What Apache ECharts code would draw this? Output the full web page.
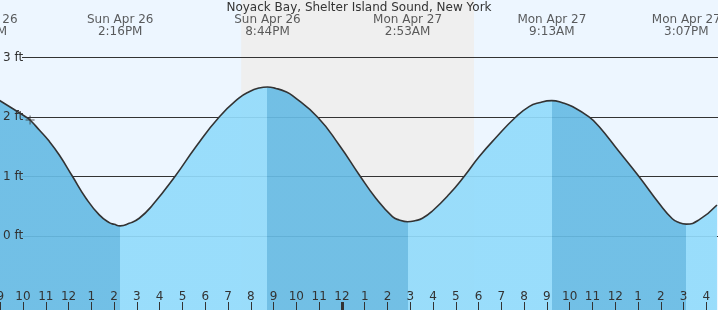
<!DOCTYPE html>
<html><head><meta charset="utf-8">
<script src="https://cdn.jsdelivr.net/npm/echarts@6/dist/echarts.min.js"></script>
<style>html,body{margin:0;padding:0;background:#edf6ff}#c{width:718px;height:310px}</style>
</head><body><div id="c"></div>
<script>
const chartTitle = 'Noyack Bay, Shelter Island Sound, New York';
// time = hours since Sun Apr 26 00:00, height in feet
const tideHours = [8.96, 10.13, 10.31, 10.715, 11.154, 11.593, 12.176, 12.764, 13.348, 13.787, 14.006, 14.267,
  14.664, 15.103, 15.687, 16.67, 17.59, 18.613, 19.49, 19.93, 20.368, 20.733, 21.101, 21.54, 21.83, 22.927,
  23.879, 24.757, 25.49, 26.218, 26.511, 26.883, 27.244, 27.534, 27.973, 28.706, 29.364, 30.02, 30.755,
  31.633, 32.216, 32.655, 33.217, 33.677, 34.116, 34.848, 35.287,
  36.165, 37.04, 37.92, 38.504, 38.797, 39.117, 39.675, 40.465];
const tideFeet = [2.28, 2.00, 1.95, 1.78, 1.59, 1.36, 1.00, 0.635, 0.354, 0.224, 0.196, 0.17,
  0.213, 0.298, 0.52, 1.00, 1.50, 2.00, 2.32, 2.425, 2.487, 2.505, 2.48, 2.425, 2.36, 2.00,
  1.53, 1.03, 0.635, 0.326, 0.269, 0.24, 0.26, 0.297, 0.42, 0.70, 1.00, 1.33, 1.65,
  2.00, 2.175, 2.24, 2.275, 2.24, 2.175, 2.00, 1.84,
  1.42, 1.00, 0.55, 0.29, 0.225, 0.20, 0.27, 0.52];
const extremeHours = [8.3, 14.267, 20.733, 26.883, 33.217, 39.117];
const extremeKinds = ['H', 'L', 'H', 'L', 'H', 'L'];
const extremeLabels = ['Sun Apr 26\n8:18AM', 'Sun Apr 26\n2:16PM', 'Sun Apr 26\n8:44PM',
  'Mon Apr 27\n2:53AM', 'Mon Apr 27\n9:13AM', 'Mon Apr 27\n3:07PM'];
const tickHours = [9,10,11,12,13,14,15,16,17,18,19,20,21,22,23,24,25,26,27,28,29,30,31,32,33,34,35,36,37,38,39,40];
const tickLabels = ['9','10','11','12','1','2','3','4','5','6','7','8','9','10','11','12','1','2','3','4','5','6','7','8','9','10','11','12','1','2','3','4'];
const midnightHours = [24];
const nightHours = [19.58, 29.80];
const gridFeet = [0, 1, 2, 3];
const gridLabels = ['0 ft', '1 ft', '2 ft', '3 ft'];
const nowPoint = [10.31, 1.95];

const X_MIN = 8.99, X_MAX = 40.51, Y_MIN = -1.244, Y_MAX = 3.966;
const DARK = '#67bbe4', LIGHT = '#92dbfb', INK = '#333333';
const FONT = 'DejaVu Sans';

const pieces = [{lt: extremeHours[0], color: extremeKinds[0] === 'H' ? LIGHT : DARK}];
extremeHours.forEach((t, i) => {
  const p = {gte: t, color: extremeKinds[i] === 'H' ? DARK : LIGHT};
  if (i + 1 < extremeHours.length) p.lt = extremeHours[i + 1];
  pieces.push(p);
});
const tide = tideHours.map((h, i) => [h, tideFeet[i]]);

const chart = echarts.init(document.getElementById('c'), null, {renderer: 'canvas'});
chart.setOption({
  animation: false,
  backgroundColor: '#edf6ff',
  textStyle: {fontFamily: FONT},
  title: {text: chartTitle, left: 'center', top: 0, padding: [2, 0, 0, 0], z: 20,
    textStyle: {fontSize: 12, fontWeight: 'normal', color: INK, fontFamily: FONT}},
  grid: [
    {left: 0, right: 0, top: 0, bottom: 0, containLabel: false, outerBoundsMode: 'none'},
    {left: 22, right: 0, top: 0, bottom: 0, containLabel: false, outerBoundsMode: 'none'}
  ],
  xAxis: [
    {gridIndex: 0, type: 'value', position: 'bottom', min: X_MIN, max: X_MAX, z: 10,
      axisLine: {show: false, onZero: false}, splitLine: {show: false},
      axisTick: {inside: true, length: 8, customValues: tickHours, lineStyle: {color: INK, width: 1}},
      axisLabel: {inside: true, customValues: tickHours, margin: 7, color: INK, fontSize: 12, fontFamily: FONT,
        formatter: v => tickLabels[tickHours.indexOf(Math.round(v))]}},
    {gridIndex: 0, type: 'value', position: 'bottom', offset: 0, min: X_MIN, max: X_MAX, z: 11,
      axisLine: {show: false, onZero: false}, splitLine: {show: false}, axisLabel: {show: false},
      axisTick: {inside: true, length: 8, customValues: midnightHours, lineStyle: {color: INK, width: 3}}},
    {gridIndex: 1, type: 'value', min: X_MIN, max: X_MAX, show: false}
  ],
  yAxis: [
    {gridIndex: 0, type: 'value', min: Y_MIN, max: Y_MAX, z: 10,
      axisLine: {show: false, onZero: false}, axisTick: {show: false}, splitLine: {show: false},
      axisLabel: {inside: true, customValues: gridFeet, margin: 3, color: INK, fontSize: 12, fontFamily: FONT,
        formatter: v => gridLabels[gridFeet.indexOf(Math.round(v))]}},
    {gridIndex: 1, type: 'value', min: Y_MIN, max: Y_MAX, show: false}
  ],
  visualMap: {show: false, type: 'piecewise', dimension: 0, seriesIndex: 2, pieces: pieces},
  series: [
    {type: 'line', xAxisIndex: 0, yAxisIndex: 0, data: [], z: 0, silent: true,
      markArea: {silent: true, z: 0, itemStyle: {color: '#efefef'},
        data: [[{xAxis: nightHours[0]}, {xAxis: nightHours[1]}]]}},
    {type: 'line', xAxisIndex: 2, yAxisIndex: 1, data: [], z: 1, silent: true,
      markLine: {silent: true, z: 1, symbol: ['none', 'none'], label: {show: false},
        lineStyle: {color: INK, width: 1, type: 'solid'},
        data: gridFeet.map(v => ({yAxis: v}))}},
    {type: 'line', xAxisIndex: 0, yAxisIndex: 0, data: tide, smooth: 0.5,
      showSymbol: false, silent: true, z: 3,
      lineStyle: {width: 0, opacity: 0}, areaStyle: {opacity: 0.92, origin: 'start'}},
    {type: 'line', xAxisIndex: 0, yAxisIndex: 0, data: tide, smooth: 0.5,
      showSymbol: false, silent: true, z: 4, color: INK,
      lineStyle: {color: INK, width: 1.6}},
    {type: 'scatter', xAxisIndex: 0, yAxisIndex: 0, data: [nowPoint], z: 5, silent: true,
      symbol: 'path://M4,0h1v4h4v1h-4v4h-1v-4h-4v-1h4z', symbolSize: 9, itemStyle: {color: INK}},
    {type: 'scatter', xAxisIndex: 0, yAxisIndex: 0, clip: false, z: 6, silent: true,
      data: extremeHours.map(h => [h, Y_MAX]), symbolSize: 1, itemStyle: {color: 'rgba(0,0,0,0)'},
      label: {show: true, position: 'bottom', distance: 13, color: INK, fontSize: 12, lineHeight: 12,
        fontFamily: FONT, align: 'center', formatter: p => extremeLabels[p.dataIndex]}}
  ]
});
</script></body></html>
